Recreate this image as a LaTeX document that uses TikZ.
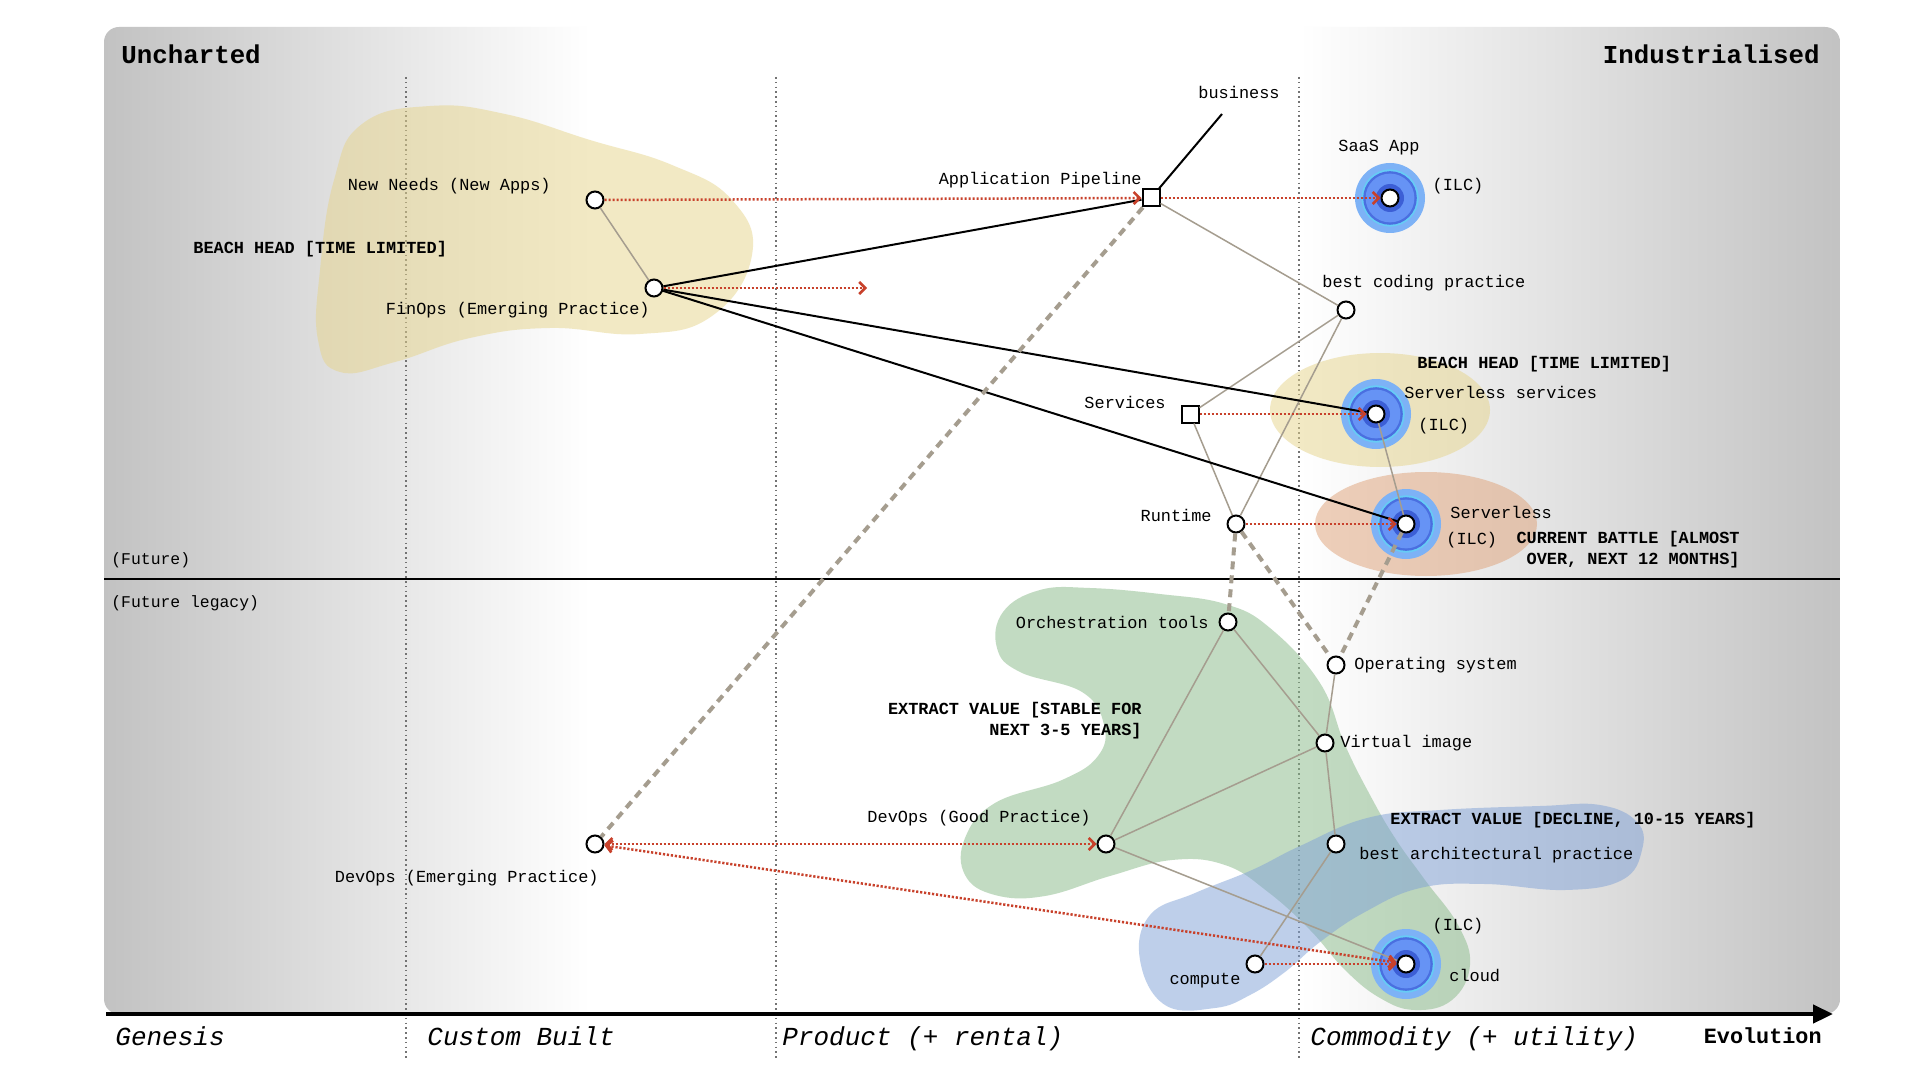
\documentclass[tikz,border=0pt]{standalone}
\usepackage{fontspec}
\setmainfont{Liberation Mono}
\usetikzlibrary{arrows.meta}
\definecolor{bggray}{HTML}{C2C2C2}
\definecolor{wline}{HTML}{A59D8F}
\definecolor{evored}{HTML}{C8412B}
\definecolor{blobyellow}{HTML}{E6D48A}
\definecolor{blobgreen}{HTML}{87B987}
\definecolor{blobblue}{HTML}{7FA1D7}
\definecolor{blobpeach}{HTML}{DFA177}
\definecolor{ilcA}{HTML}{7DB2F6}
\definecolor{ilcB}{HTML}{66CCF5}
\definecolor{ilcC}{HTML}{4A6FE0}
\definecolor{ilcD}{HTML}{6693F5}
\definecolor{ilcE}{HTML}{3C5FD6}
\tikzset{
  evotip/.tip={Straight Barb[length=3pt,width=6pt,line width=1.3pt]},
  comp/.style={circle,draw=black,line width=1pt,fill=white,minimum size=8.5pt,inner sep=0pt},
  sqcomp/.style={rectangle,draw=black,line width=1pt,fill=white,minimum size=8.5pt,inner sep=0pt},
  lbl/.style={inner sep=0pt,font=\fontsize{8.45}{10.5}\selectfont},
  blbl/.style={inner sep=0pt,font=\fontsize{8.45}{10.5}\selectfont\bfseries},
  link/.style={draw=wline,line width=0.75pt},
  strong/.style={draw=black,line width=1pt},
  dashlink/.style={draw=wline,line width=2pt,dash pattern=on 4pt off 3pt},
  evo/.style={draw=evored,line width=1.25pt,dash pattern=on 1.1pt off 0.9pt,-evotip},
  evoboth/.style={draw=evored,line width=1.25pt,dash pattern=on 1.1pt off 0.9pt,evotip-evotip},
  stagesep/.style={draw=black!55,line width=0.7pt,dash pattern=on 0.8pt off 1.6pt},
  ttl/.style={inner sep=0pt,font=\fontsize{12.9}{15}\selectfont\bfseries},
  stage/.style={inner sep=0pt,font=\fontsize{13}{15}\selectfont\itshape},
}
\begin{document}
\begin{tikzpicture}[x=0.5pt,y=-0.5pt]
\useasboundingbox (0,0) rectangle (1920,1080);
\fill[white] (0,0) rectangle (1920,1080);
% background
\begin{scope}
\clip[rounded corners=7.5pt] (104,27) rectangle (1840,1014);
\shade[left color=bggray,right color=white] (104,20) rectangle (590,1020);
\fill[white] (589,20) rectangle (1300,1020);
\shade[left color=white,right color=bggray] (1299,20) rectangle (1845,1020);
\end{scope}
% stage separators
\draw[stagesep] (406,77) -- (406,1059);
\draw[stagesep] (776,77) -- (776,1059);
\draw[stagesep] (1299,77) -- (1299,1059);
% future line
\draw[black,line width=1pt] (104,579) -- (1840,579);
% blobs
\fill[blobyellow,opacity=0.5] plot[smooth cycle,tension=0.75] coordinates {(430,106) (362,124) (334,180) (320,270) (318,340) (340,372) (395,362) (470,338) (550,328) (640,334) (712,316) (752,255) (732,200) (672,165) (590,140) (505,114)};
\fill[blobgreen,opacity=0.5] plot[smooth cycle,tension=0.7] coordinates {(1040,590) (1003,612) (997,648) (1020,672) (1082,692) (1104,725) (1098,756) (1062,780) (995,803) (965,838) (965,875) (995,895) (1045,896) (1110,876) (1172,860) (1225,865) (1268,892) (1310,930) (1345,970) (1380,998) (1415,1010) (1452,1000) (1470,965) (1458,925) (1425,880) (1395,838) (1370,795) (1345,745) (1320,683) (1270,628) (1225,604) (1160,594) (1090,588)};
\fill[blobblue,opacity=0.5] plot[smooth cycle,tension=0.7] coordinates {(1140,960) (1150,915) (1195,893) (1252,870) (1300,846) (1367,818) (1440,810) (1540,806) (1600,805) (1637,822) (1642,850) (1622,880) (1565,890) (1485,884) (1420,888) (1365,912) (1320,942) (1285,972) (1250,995) (1215,1008) (1165,1005)};
\fill[blobyellow,opacity=0.5] (1380,410) ellipse [x radius=55pt, y radius=28.5pt];
\fill[blobpeach,opacity=0.5] (1426,524) ellipse [x radius=55.5pt, y radius=26pt];
% ILC rings
\foreach \p in {(1390,198),(1376,414),(1406,524),(1406,964)} {
  \fill[ilcA] \p circle[radius=17.5pt];
  \fill[ilcB] \p circle[radius=14.3pt];
  \fill[ilcC] \p circle[radius=13.4pt];
  \fill[ilcD] \p circle[radius=12.2pt];
  \fill[ilcE] \p circle[radius=7pt];
}
% axis
\draw[black,line width=2.2pt,-{Triangle[length=10pt,width=9pt]}] (106,1014) -- (1833,1014);
% components
\node[comp] (newneeds) at (595,200) {};
\node[comp] (finops) at (654,288) {};
\node[sqcomp] (apppipe) at (1151,198) {};
\coordinate (businessEnd) at (1222,114);
\node[comp] (saas) at (1390,198) {};
\node[comp] (bcp) at (1346,310) {};
\node[sqcomp] (services) at (1190,414) {};
\node[comp] (sls) at (1376,414) {};
\node[comp] (runtime) at (1236,524) {};
\node[comp] (serverless) at (1406,524) {};
\node[comp] (orch) at (1228,622) {};
\node[comp] (os) at (1336,665) {};
\node[comp] (vimg) at (1325,743) {};
\node[comp] (devgood) at (1106,844) {};
\node[comp] (bap) at (1336,844) {};
\node[comp] (devemerg) at (595,844) {};
\node[comp] (compute) at (1255,964) {};
\node[comp] (cloud) at (1406,964) {};
\coordinate (finopsEvo) at (867,288);
% links
\path[link] (newneeds) -- (finops);
\path[link] (apppipe) -- (bcp);
\path[link] (bcp) -- (services);
\path[link] (bcp) -- (runtime);
\path[link] (services) -- (runtime);
\path[link] (sls) -- (serverless);
\path[link] (orch) -- (vimg);
\path[link] (orch) -- (devgood);
\path[link] (os) -- (vimg);
\path[link] (vimg) -- (devgood);
\path[link] (vimg) -- (bap);
\path[link] (devgood) -- (cloud);
\path[link] (bap) -- (compute);
\path[strong] (finops) -- (apppipe);
\path[strong] (finops) -- (sls);
\path[strong] (finops) -- (serverless);
\path[strong] (apppipe) -- (businessEnd);
\path[dashlink] (apppipe) -- (devemerg);
\path[dashlink] (runtime) -- (orch);
\path[dashlink] (runtime) -- (os);
\path[dashlink] (serverless) -- (os);
% evolution arrows
\path[evo] (newneeds) -- (apppipe);
\path[evo] (apppipe) -- (saas);
\path[evo] (finops) -- (finopsEvo);
\path[evo] (services) -- (sls);
\path[evo] (runtime) -- (serverless);
\path[evoboth] (devemerg) -- (devgood);
\path[evoboth] (devemerg) -- (cloud);
\path[evo] (compute) -- (cloud);
% labels
\node[ttl,anchor=west] (tUnch) at (121,54) {Uncharted};
\node[ttl,anchor=east] (tInd) at (1820,54) {Industrialised};
\node[inner sep=0pt,anchor=base west,font=\fontsize{8.2}{10}\selectfont] (tFut) at (111,564) {(Future)};
\node[inner sep=0pt,anchor=base west,font=\fontsize{8.2}{10}\selectfont] (tFutL) at (111,607) {(Future legacy)};
\node[stage,anchor=base west] (sGen) at (115,1045) {Genesis};
\node[stage,anchor=base west] (sCus) at (427,1045) {Custom Built};
\node[stage,anchor=base west] (sPro) at (782,1045) {Product (+ rental)};
\node[stage,anchor=base west] (sCom) at (1310,1045) {Commodity (+ utility)};
\node[inner sep=0pt,anchor=base east,font=\fontsize{10.9}{13}\selectfont\bfseries] (sEvo) at (1822,1043) {Evolution};

\node[lbl,anchor=east] (lNewNeeds) at (551,186) {New Needs (New Apps)};
\node[lbl,anchor=east] (lFinOps) at (650,310) {FinOps (Emerging Practice)};
\node[blbl,anchor=west] (aBeach1) at (193,249) {BEACH HEAD [TIME LIMITED]};
\node[lbl,anchor=east] (lApp) at (1142,180) {Application Pipeline};
\node[lbl] (lBusiness) at (1239,92) {business};
\node[lbl] (lSaas) at (1379,148) {SaaS App};
\node[lbl] (iSaas) at (1458,186) {(ILC)};
\node[lbl,anchor=west] (lBcp) at (1322,283) {best coding practice};
\node[lbl,anchor=east] (lServices) at (1166,402) {Services};
\node[lbl,anchor=west] (lSls) at (1404,392) {Serverless services};
\node[lbl,anchor=west] (iSls) at (1418,426) {(ILC)};
\node[blbl,anchor=west] (aBeach2) at (1417,364) {BEACH HEAD [TIME LIMITED]};
\node[lbl,anchor=east] (lRuntime) at (1212,515) {Runtime};
\node[lbl,anchor=west] (lServerless) at (1450,512) {Serverless};
\node[lbl,anchor=west] (iServerless) at (1446,540) {(ILC)};
\node[blbl,anchor=east,align=right] (aBattle) at (1740,549.5) {CURRENT BATTLE [ALMOST\\OVER, NEXT 12 MONTHS]};
\node[lbl,anchor=east] (lOrch) at (1209,622) {Orchestration tools};
\node[lbl,anchor=west] (lOs) at (1354,665) {Operating system};
\node[lbl,anchor=west] (lVimg) at (1340,743) {Virtual image};
\node[blbl,anchor=east,align=right] (aStable) at (1142,720.5) {EXTRACT VALUE [STABLE FOR\\NEXT 3-5 YEARS]};
\node[lbl,anchor=east] (lDevGood) at (1091,818) {DevOps (Good Practice)};
\node[lbl,anchor=west] (lBap) at (1359,855) {best architectural practice};
\node[blbl,anchor=west] (aDecline) at (1390,820) {EXTRACT VALUE [DECLINE, 10-15 YEARS]};
\node[lbl,anchor=east] (lDevEm) at (599,878) {DevOps (Emerging Practice)};
\node[lbl] (lCompute) at (1205,981) {compute};
\node[lbl,anchor=west] (lCloud) at (1449,975) {cloud};
\node[lbl] (iCloud) at (1458,926) {(ILC)};
\end{tikzpicture}
\end{document}
